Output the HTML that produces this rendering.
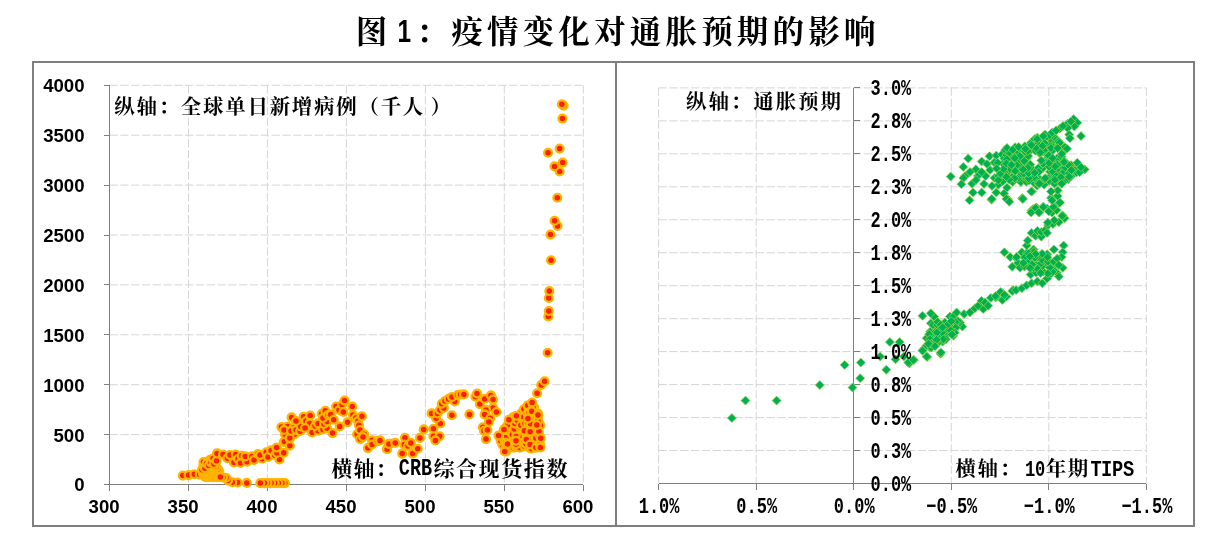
<!DOCTYPE html>
<html lang="zh-CN"><head><meta charset="utf-8"><title>图 1：疫情变化对通胀预期的影响</title>
<style>html,body{margin:0;padding:0;background:#fff;overflow:hidden}svg{display:block}</style></head>
<body>
<svg width="1225" height="541" viewBox="0 0 1225 541">
<rect x="0" y="0" width="1225" height="541" fill="#ffffff"/>
<rect x="33" y="62" width="1161" height="464" fill="none" stroke="#7f7f7f" stroke-width="2"/>
<line x1="616.0" y1="62.0" x2="616.0" y2="526.0" stroke="#7f7f7f" stroke-width="2"/>
<g>
<line x1="109.5" y1="434.6" x2="583.3" y2="434.6" stroke="#d6d6d6" stroke-width="1" stroke-dasharray="8.3 2.5"/>
<line x1="109.5" y1="384.7" x2="583.3" y2="384.7" stroke="#d6d6d6" stroke-width="1" stroke-dasharray="8.3 2.5"/>
<line x1="109.5" y1="334.8" x2="583.3" y2="334.8" stroke="#d6d6d6" stroke-width="1" stroke-dasharray="8.3 2.5"/>
<line x1="109.5" y1="284.9" x2="583.3" y2="284.9" stroke="#d6d6d6" stroke-width="1" stroke-dasharray="8.3 2.5"/>
<line x1="109.5" y1="235.0" x2="583.3" y2="235.0" stroke="#d6d6d6" stroke-width="1" stroke-dasharray="8.3 2.5"/>
<line x1="109.5" y1="185.1" x2="583.3" y2="185.1" stroke="#d6d6d6" stroke-width="1" stroke-dasharray="8.3 2.5"/>
<line x1="109.5" y1="135.2" x2="583.3" y2="135.2" stroke="#d6d6d6" stroke-width="1" stroke-dasharray="8.3 2.5"/>
<line x1="109.5" y1="85.3" x2="583.3" y2="85.3" stroke="#d6d6d6" stroke-width="1" stroke-dasharray="8.3 2.5"/>
<line x1="188.5" y1="85.3" x2="188.5" y2="484.5" stroke="#d6d6d6" stroke-width="1" stroke-dasharray="8.3 2.5"/>
<line x1="267.4" y1="85.3" x2="267.4" y2="484.5" stroke="#d6d6d6" stroke-width="1" stroke-dasharray="8.3 2.5"/>
<line x1="346.4" y1="85.3" x2="346.4" y2="484.5" stroke="#d6d6d6" stroke-width="1" stroke-dasharray="8.3 2.5"/>
<line x1="425.4" y1="85.3" x2="425.4" y2="484.5" stroke="#d6d6d6" stroke-width="1" stroke-dasharray="8.3 2.5"/>
<line x1="504.3" y1="85.3" x2="504.3" y2="484.5" stroke="#d6d6d6" stroke-width="1" stroke-dasharray="8.3 2.5"/>
<line x1="583.3" y1="85.3" x2="583.3" y2="484.5" stroke="#d6d6d6" stroke-width="1" stroke-dasharray="8.3 2.5"/>
<line x1="658.6" y1="450.5" x2="1146.4" y2="450.5" stroke="#d6d6d6" stroke-width="1" stroke-dasharray="8.3 2.5"/>
<line x1="658.6" y1="417.6" x2="1146.4" y2="417.6" stroke="#d6d6d6" stroke-width="1" stroke-dasharray="8.3 2.5"/>
<line x1="658.6" y1="384.6" x2="1146.4" y2="384.6" stroke="#d6d6d6" stroke-width="1" stroke-dasharray="8.3 2.5"/>
<line x1="658.6" y1="351.6" x2="1146.4" y2="351.6" stroke="#d6d6d6" stroke-width="1" stroke-dasharray="8.3 2.5"/>
<line x1="658.6" y1="318.7" x2="1146.4" y2="318.7" stroke="#d6d6d6" stroke-width="1" stroke-dasharray="8.3 2.5"/>
<line x1="658.6" y1="285.7" x2="1146.4" y2="285.7" stroke="#d6d6d6" stroke-width="1" stroke-dasharray="8.3 2.5"/>
<line x1="658.6" y1="252.7" x2="1146.4" y2="252.7" stroke="#d6d6d6" stroke-width="1" stroke-dasharray="8.3 2.5"/>
<line x1="658.6" y1="219.8" x2="1146.4" y2="219.8" stroke="#d6d6d6" stroke-width="1" stroke-dasharray="8.3 2.5"/>
<line x1="658.6" y1="186.8" x2="1146.4" y2="186.8" stroke="#d6d6d6" stroke-width="1" stroke-dasharray="8.3 2.5"/>
<line x1="658.6" y1="153.8" x2="1146.4" y2="153.8" stroke="#d6d6d6" stroke-width="1" stroke-dasharray="8.3 2.5"/>
<line x1="658.6" y1="120.9" x2="1146.4" y2="120.9" stroke="#d6d6d6" stroke-width="1" stroke-dasharray="8.3 2.5"/>
<line x1="658.6" y1="87.9" x2="1146.4" y2="87.9" stroke="#d6d6d6" stroke-width="1" stroke-dasharray="8.3 2.5"/>
<line x1="658.6" y1="87.9" x2="658.6" y2="483.5" stroke="#d6d6d6" stroke-width="1" stroke-dasharray="8.3 2.5"/>
<line x1="756.2" y1="87.9" x2="756.2" y2="483.5" stroke="#d6d6d6" stroke-width="1" stroke-dasharray="8.3 2.5"/>
<line x1="951.3" y1="87.9" x2="951.3" y2="483.5" stroke="#d6d6d6" stroke-width="1" stroke-dasharray="8.3 2.5"/>
<line x1="1048.8" y1="87.9" x2="1048.8" y2="483.5" stroke="#d6d6d6" stroke-width="1" stroke-dasharray="8.3 2.5"/>
<line x1="1146.4" y1="87.9" x2="1146.4" y2="483.5" stroke="#d6d6d6" stroke-width="1" stroke-dasharray="8.3 2.5"/>
</g><g shape-rendering="crispEdges">
<line x1="109.5" y1="85.3" x2="109.5" y2="484.5" stroke="#7f7f7f" stroke-width="1"/>
<line x1="109.5" y1="484.5" x2="583.3" y2="484.5" stroke="#7f7f7f" stroke-width="1"/>
<line x1="103.5" y1="484.5" x2="109.5" y2="484.5" stroke="#7f7f7f" stroke-width="1"/>
<line x1="103.5" y1="434.6" x2="109.5" y2="434.6" stroke="#7f7f7f" stroke-width="1"/>
<line x1="103.5" y1="384.7" x2="109.5" y2="384.7" stroke="#7f7f7f" stroke-width="1"/>
<line x1="103.5" y1="334.8" x2="109.5" y2="334.8" stroke="#7f7f7f" stroke-width="1"/>
<line x1="103.5" y1="284.9" x2="109.5" y2="284.9" stroke="#7f7f7f" stroke-width="1"/>
<line x1="103.5" y1="235.0" x2="109.5" y2="235.0" stroke="#7f7f7f" stroke-width="1"/>
<line x1="103.5" y1="185.1" x2="109.5" y2="185.1" stroke="#7f7f7f" stroke-width="1"/>
<line x1="103.5" y1="135.2" x2="109.5" y2="135.2" stroke="#7f7f7f" stroke-width="1"/>
<line x1="103.5" y1="85.3" x2="109.5" y2="85.3" stroke="#7f7f7f" stroke-width="1"/>
<line x1="109.5" y1="484.5" x2="109.5" y2="490.5" stroke="#7f7f7f" stroke-width="1"/>
<line x1="188.5" y1="484.5" x2="188.5" y2="490.5" stroke="#7f7f7f" stroke-width="1"/>
<line x1="267.4" y1="484.5" x2="267.4" y2="490.5" stroke="#7f7f7f" stroke-width="1"/>
<line x1="346.4" y1="484.5" x2="346.4" y2="490.5" stroke="#7f7f7f" stroke-width="1"/>
<line x1="425.4" y1="484.5" x2="425.4" y2="490.5" stroke="#7f7f7f" stroke-width="1"/>
<line x1="504.3" y1="484.5" x2="504.3" y2="490.5" stroke="#7f7f7f" stroke-width="1"/>
<line x1="583.3" y1="484.5" x2="583.3" y2="490.5" stroke="#7f7f7f" stroke-width="1"/>
<line x1="853.7" y1="87.9" x2="853.7" y2="483.5" stroke="#7f7f7f" stroke-width="1"/>
<line x1="658.6" y1="483.5" x2="1146.4" y2="483.5" stroke="#7f7f7f" stroke-width="1"/>
<line x1="853.7" y1="483.5" x2="859.7" y2="483.5" stroke="#7f7f7f" stroke-width="1"/>
<line x1="853.7" y1="450.5" x2="859.7" y2="450.5" stroke="#7f7f7f" stroke-width="1"/>
<line x1="853.7" y1="417.6" x2="859.7" y2="417.6" stroke="#7f7f7f" stroke-width="1"/>
<line x1="853.7" y1="384.6" x2="859.7" y2="384.6" stroke="#7f7f7f" stroke-width="1"/>
<line x1="853.7" y1="351.6" x2="859.7" y2="351.6" stroke="#7f7f7f" stroke-width="1"/>
<line x1="853.7" y1="318.7" x2="859.7" y2="318.7" stroke="#7f7f7f" stroke-width="1"/>
<line x1="853.7" y1="285.7" x2="859.7" y2="285.7" stroke="#7f7f7f" stroke-width="1"/>
<line x1="853.7" y1="252.7" x2="859.7" y2="252.7" stroke="#7f7f7f" stroke-width="1"/>
<line x1="853.7" y1="219.8" x2="859.7" y2="219.8" stroke="#7f7f7f" stroke-width="1"/>
<line x1="853.7" y1="186.8" x2="859.7" y2="186.8" stroke="#7f7f7f" stroke-width="1"/>
<line x1="853.7" y1="153.8" x2="859.7" y2="153.8" stroke="#7f7f7f" stroke-width="1"/>
<line x1="853.7" y1="120.9" x2="859.7" y2="120.9" stroke="#7f7f7f" stroke-width="1"/>
<line x1="853.7" y1="87.9" x2="859.7" y2="87.9" stroke="#7f7f7f" stroke-width="1"/>
<line x1="658.6" y1="483.5" x2="658.6" y2="489.5" stroke="#7f7f7f" stroke-width="1"/>
<line x1="756.2" y1="483.5" x2="756.2" y2="489.5" stroke="#7f7f7f" stroke-width="1"/>
<line x1="853.7" y1="483.5" x2="853.7" y2="489.5" stroke="#7f7f7f" stroke-width="1"/>
<line x1="951.3" y1="483.5" x2="951.3" y2="489.5" stroke="#7f7f7f" stroke-width="1"/>
<line x1="1048.8" y1="483.5" x2="1048.8" y2="489.5" stroke="#7f7f7f" stroke-width="1"/>
<line x1="1146.4" y1="483.5" x2="1146.4" y2="489.5" stroke="#7f7f7f" stroke-width="1"/>
</g>
<g fill="#ff1e00" stroke="#ffb400" stroke-width="2.3">
<circle cx="182.8" cy="475.6" r="3.9"/>
<circle cx="188.6" cy="475.1" r="3.9"/>
<circle cx="194.3" cy="474.2" r="3.9"/>
<circle cx="199.6" cy="474.6" r="3.9"/>
<circle cx="205.0" cy="477.0" r="3.9"/>
<circle cx="207.3" cy="477.0" r="3.9"/>
<circle cx="209.0" cy="477.1" r="3.9"/>
<circle cx="210.8" cy="477.0" r="3.9"/>
<circle cx="213.1" cy="477.2" r="3.9"/>
<circle cx="214.8" cy="476.9" r="3.9"/>
<circle cx="216.8" cy="477.2" r="3.9"/>
<circle cx="219.1" cy="476.7" r="3.9"/>
<circle cx="219.8" cy="475.3" r="3.9"/>
<circle cx="217.6" cy="475.1" r="3.9"/>
<circle cx="215.3" cy="474.7" r="3.9"/>
<circle cx="213.5" cy="474.7" r="3.9"/>
<circle cx="211.3" cy="474.8" r="3.9"/>
<circle cx="209.2" cy="475.0" r="3.9"/>
<circle cx="207.5" cy="475.2" r="3.9"/>
<circle cx="205.5" cy="475.1" r="3.9"/>
<circle cx="203.5" cy="475.1" r="3.9"/>
<circle cx="203.0" cy="472.9" r="3.9"/>
<circle cx="205.3" cy="473.3" r="3.9"/>
<circle cx="207.2" cy="473.1" r="3.9"/>
<circle cx="208.9" cy="472.8" r="3.9"/>
<circle cx="210.9" cy="472.7" r="3.9"/>
<circle cx="213.2" cy="472.9" r="3.9"/>
<circle cx="215.2" cy="472.9" r="3.9"/>
<circle cx="217.3" cy="473.2" r="3.9"/>
<circle cx="218.7" cy="472.8" r="3.9"/>
<circle cx="219.2" cy="471.0" r="3.9"/>
<circle cx="217.3" cy="470.9" r="3.9"/>
<circle cx="214.7" cy="471.1" r="3.9"/>
<circle cx="213.2" cy="470.9" r="3.9"/>
<circle cx="210.8" cy="470.9" r="3.9"/>
<circle cx="209.3" cy="471.2" r="3.9"/>
<circle cx="206.8" cy="470.8" r="3.9"/>
<circle cx="204.8" cy="470.7" r="3.9"/>
<circle cx="203.2" cy="470.8" r="3.9"/>
<circle cx="204.0" cy="469.0" r="3.9"/>
<circle cx="205.8" cy="469.1" r="3.9"/>
<circle cx="207.8" cy="469.1" r="3.9"/>
<circle cx="209.8" cy="469.0" r="3.9"/>
<circle cx="211.8" cy="468.9" r="3.9"/>
<circle cx="214.3" cy="469.2" r="3.9"/>
<circle cx="215.9" cy="469.2" r="3.9"/>
<circle cx="217.8" cy="468.9" r="3.9"/>
<circle cx="216.2" cy="467.3" r="3.9"/>
<circle cx="213.8" cy="467.5" r="3.9"/>
<circle cx="211.8" cy="467.1" r="3.9"/>
<circle cx="210.2" cy="467.1" r="3.9"/>
<circle cx="207.9" cy="466.9" r="3.9"/>
<circle cx="205.8" cy="467.2" r="3.9"/>
<circle cx="202.0" cy="469.8" r="3.9"/>
<circle cx="203.5" cy="465.5" r="3.9"/>
<circle cx="203.5" cy="462.1" r="3.9"/>
<circle cx="205.5" cy="466.5" r="3.9"/>
<circle cx="204.9" cy="468.2" r="3.9"/>
<circle cx="207.8" cy="461.2" r="3.9"/>
<circle cx="206.5" cy="463.8" r="3.9"/>
<circle cx="208.8" cy="465.5" r="3.9"/>
<circle cx="210.5" cy="459.5" r="3.9"/>
<circle cx="211.0" cy="462.5" r="3.9"/>
<circle cx="213.0" cy="458.5" r="3.9"/>
<circle cx="214.0" cy="464.0" r="3.9"/>
<circle cx="216.5" cy="460.7" r="3.9"/>
<circle cx="284.9" cy="483.1" r="3.9"/>
<circle cx="281.9" cy="483.1" r="3.9"/>
<circle cx="278.3" cy="483.1" r="3.9"/>
<circle cx="274.7" cy="483.1" r="3.9"/>
<circle cx="271.1" cy="483.1" r="3.9"/>
<circle cx="267.5" cy="483.1" r="3.9"/>
<circle cx="264.5" cy="483.1" r="3.9"/>
<circle cx="260.3" cy="483.1" r="3.9"/>
<circle cx="246.8" cy="482.9" r="3.9"/>
<circle cx="237.6" cy="482.5" r="3.9"/>
<circle cx="232.3" cy="482.3" r="3.9"/>
<circle cx="228.0" cy="480.4" r="3.9"/>
<circle cx="226.0" cy="477.8" r="3.9"/>
<circle cx="223.0" cy="477.5" r="3.9"/>
<circle cx="220.3" cy="477.0" r="3.9"/>
<circle cx="217.0" cy="453.4" r="3.9"/>
<circle cx="223.0" cy="454.6" r="3.9"/>
<circle cx="227.3" cy="458.2" r="3.9"/>
<circle cx="230.0" cy="455.0" r="3.9"/>
<circle cx="235.7" cy="454.6" r="3.9"/>
<circle cx="233.9" cy="462.4" r="3.9"/>
<circle cx="238.0" cy="459.0" r="3.9"/>
<circle cx="240.5" cy="463.0" r="3.9"/>
<circle cx="241.7" cy="455.8" r="3.9"/>
<circle cx="247.0" cy="461.8" r="3.9"/>
<circle cx="245.3" cy="456.4" r="3.9"/>
<circle cx="251.9" cy="456.4" r="3.9"/>
<circle cx="254.0" cy="460.0" r="3.9"/>
<circle cx="257.9" cy="454.0" r="3.9"/>
<circle cx="262.1" cy="458.8" r="3.9"/>
<circle cx="260.0" cy="455.0" r="3.9"/>
<circle cx="266.3" cy="452.2" r="3.9"/>
<circle cx="268.0" cy="457.0" r="3.9"/>
<circle cx="271.1" cy="450.4" r="3.9"/>
<circle cx="276.5" cy="448.0" r="3.9"/>
<circle cx="274.7" cy="455.2" r="3.9"/>
<circle cx="279.5" cy="459.4" r="3.9"/>
<circle cx="277.0" cy="453.0" r="3.9"/>
<circle cx="283.7" cy="452.8" r="3.9"/>
<circle cx="276.6" cy="447.5" r="3.9"/>
<circle cx="283.7" cy="442.0" r="3.9"/>
<circle cx="284.4" cy="441.5" r="3.9"/>
<circle cx="289.8" cy="445.7" r="3.9"/>
<circle cx="289.7" cy="438.4" r="3.9"/>
<circle cx="285.0" cy="434.3" r="3.9"/>
<circle cx="281.4" cy="427.1" r="3.9"/>
<circle cx="287.4" cy="426.5" r="3.9"/>
<circle cx="293.4" cy="427.7" r="3.9"/>
<circle cx="294.6" cy="434.3" r="3.9"/>
<circle cx="289.8" cy="437.9" r="3.9"/>
<circle cx="284.0" cy="430.0" r="3.9"/>
<circle cx="291.0" cy="431.0" r="3.9"/>
<circle cx="296.0" cy="430.0" r="3.9"/>
<circle cx="300.0" cy="431.3" r="3.9"/>
<circle cx="300.6" cy="426.5" r="3.9"/>
<circle cx="291.6" cy="417.4" r="3.9"/>
<circle cx="296.0" cy="421.0" r="3.9"/>
<circle cx="303.6" cy="416.8" r="3.9"/>
<circle cx="306.0" cy="421.0" r="3.9"/>
<circle cx="310.2" cy="415.6" r="3.9"/>
<circle cx="309.6" cy="423.4" r="3.9"/>
<circle cx="305.0" cy="428.0" r="3.9"/>
<circle cx="312.1" cy="432.5" r="3.9"/>
<circle cx="318.1" cy="430.7" r="3.9"/>
<circle cx="315.0" cy="426.0" r="3.9"/>
<circle cx="318.1" cy="423.4" r="3.9"/>
<circle cx="322.9" cy="429.5" r="3.9"/>
<circle cx="327.1" cy="428.3" r="3.9"/>
<circle cx="324.0" cy="424.0" r="3.9"/>
<circle cx="327.1" cy="421.6" r="3.9"/>
<circle cx="321.7" cy="413.8" r="3.9"/>
<circle cx="323.0" cy="418.0" r="3.9"/>
<circle cx="325.3" cy="410.8" r="3.9"/>
<circle cx="328.0" cy="415.0" r="3.9"/>
<circle cx="330.7" cy="414.4" r="3.9"/>
<circle cx="333.7" cy="419.8" r="3.9"/>
<circle cx="332.5" cy="433.1" r="3.9"/>
<circle cx="339.7" cy="426.5" r="3.9"/>
<circle cx="336.1" cy="406.6" r="3.9"/>
<circle cx="339.0" cy="410.0" r="3.9"/>
<circle cx="342.1" cy="404.8" r="3.9"/>
<circle cx="344.5" cy="400.6" r="3.9"/>
<circle cx="343.3" cy="412.0" r="3.9"/>
<circle cx="347.5" cy="422.2" r="3.9"/>
<circle cx="352.3" cy="406.6" r="3.9"/>
<circle cx="352.9" cy="415.0" r="3.9"/>
<circle cx="355.9" cy="418.0" r="3.9"/>
<circle cx="358.0" cy="421.0" r="3.9"/>
<circle cx="361.9" cy="416.2" r="3.9"/>
<circle cx="358.9" cy="425.2" r="3.9"/>
<circle cx="357.1" cy="434.3" r="3.9"/>
<circle cx="360.0" cy="430.0" r="3.9"/>
<circle cx="364.3" cy="434.3" r="3.9"/>
<circle cx="360.1" cy="439.1" r="3.9"/>
<circle cx="363.0" cy="437.0" r="3.9"/>
<circle cx="367.9" cy="448.1" r="3.9"/>
<circle cx="372.1" cy="440.3" r="3.9"/>
<circle cx="372.1" cy="444.5" r="3.9"/>
<circle cx="377.5" cy="440.9" r="3.9"/>
<circle cx="380.0" cy="440.4" r="3.9"/>
<circle cx="386.9" cy="448.8" r="3.9"/>
<circle cx="387.1" cy="449.3" r="3.9"/>
<circle cx="389.7" cy="443.9" r="3.9"/>
<circle cx="388.9" cy="443.9" r="3.9"/>
<circle cx="395.2" cy="442.9" r="3.9"/>
<circle cx="402.2" cy="453.6" r="3.9"/>
<circle cx="404.9" cy="437.7" r="3.9"/>
<circle cx="404.3" cy="444.6" r="3.9"/>
<circle cx="408.0" cy="446.0" r="3.9"/>
<circle cx="410.8" cy="442.9" r="3.9"/>
<circle cx="412.6" cy="453.6" r="3.9"/>
<circle cx="417.7" cy="448.8" r="3.9"/>
<circle cx="419.9" cy="437.9" r="3.9"/>
<circle cx="423.7" cy="429.4" r="3.9"/>
<circle cx="433.4" cy="428.7" r="3.9"/>
<circle cx="433.4" cy="436.3" r="3.9"/>
<circle cx="439.6" cy="436.3" r="3.9"/>
<circle cx="435.4" cy="440.4" r="3.9"/>
<circle cx="440.3" cy="423.5" r="3.9"/>
<circle cx="436.1" cy="418.3" r="3.9"/>
<circle cx="431.6" cy="413.4" r="3.9"/>
<circle cx="437.5" cy="413.4" r="3.9"/>
<circle cx="440.0" cy="410.0" r="3.9"/>
<circle cx="443.8" cy="407.9" r="3.9"/>
<circle cx="441.7" cy="403.7" r="3.9"/>
<circle cx="445.0" cy="401.0" r="3.9"/>
<circle cx="448.6" cy="398.9" r="3.9"/>
<circle cx="454.8" cy="401.4" r="3.9"/>
<circle cx="452.0" cy="397.0" r="3.9"/>
<circle cx="457.6" cy="395.0" r="3.9"/>
<circle cx="460.5" cy="394.5" r="3.9"/>
<circle cx="463.9" cy="394.4" r="3.9"/>
<circle cx="451.8" cy="415.2" r="3.9"/>
<circle cx="469.4" cy="414.4" r="3.9"/>
<circle cx="475.4" cy="396.8" r="3.9"/>
<circle cx="477.0" cy="393.5" r="3.9"/>
<circle cx="479.8" cy="404.1" r="3.9"/>
<circle cx="484.6" cy="398.9" r="3.9"/>
<circle cx="490.9" cy="395.4" r="3.9"/>
<circle cx="493.0" cy="399.6" r="3.9"/>
<circle cx="493.0" cy="407.9" r="3.9"/>
<circle cx="486.0" cy="409.9" r="3.9"/>
<circle cx="496.4" cy="412.0" r="3.9"/>
<circle cx="484.6" cy="414.4" r="3.9"/>
<circle cx="490.2" cy="418.3" r="3.9"/>
<circle cx="488.8" cy="422.1" r="3.9"/>
<circle cx="482.8" cy="427.3" r="3.9"/>
<circle cx="484.0" cy="430.7" r="3.9"/>
<circle cx="487.4" cy="430.0" r="3.9"/>
<circle cx="486.0" cy="439.1" r="3.9"/>
<circle cx="502.4" cy="444.7" r="3.9"/>
<circle cx="499.7" cy="435.8" r="3.9"/>
<circle cx="507.0" cy="441.1" r="3.9"/>
<circle cx="505.1" cy="430.9" r="3.9"/>
<circle cx="506.2" cy="451.5" r="3.9"/>
<circle cx="511.3" cy="427.8" r="3.9"/>
<circle cx="500.7" cy="440.8" r="3.9"/>
<circle cx="503.3" cy="436.6" r="3.9"/>
<circle cx="504.4" cy="440.4" r="3.9"/>
<circle cx="511.0" cy="444.4" r="3.9"/>
<circle cx="507.0" cy="448.8" r="3.9"/>
<circle cx="505.1" cy="449.0" r="3.9"/>
<circle cx="513.5" cy="447.7" r="3.9"/>
<circle cx="506.6" cy="436.7" r="3.9"/>
<circle cx="506.0" cy="427.5" r="3.9"/>
<circle cx="505.7" cy="442.5" r="3.9"/>
<circle cx="510.7" cy="421.0" r="3.9"/>
<circle cx="512.3" cy="431.6" r="3.9"/>
<circle cx="511.3" cy="424.4" r="3.9"/>
<circle cx="521.2" cy="413.3" r="3.9"/>
<circle cx="513.5" cy="441.3" r="3.9"/>
<circle cx="512.9" cy="417.3" r="3.9"/>
<circle cx="506.7" cy="430.3" r="3.9"/>
<circle cx="512.3" cy="434.4" r="3.9"/>
<circle cx="520.3" cy="443.7" r="3.9"/>
<circle cx="513.5" cy="420.7" r="3.9"/>
<circle cx="507.7" cy="425.1" r="3.9"/>
<circle cx="516.3" cy="432.3" r="3.9"/>
<circle cx="519.2" cy="441.1" r="3.9"/>
<circle cx="520.9" cy="433.3" r="3.9"/>
<circle cx="525.0" cy="439.2" r="3.9"/>
<circle cx="524.0" cy="409.1" r="3.9"/>
<circle cx="515.4" cy="416.5" r="3.9"/>
<circle cx="516.1" cy="446.7" r="3.9"/>
<circle cx="521.4" cy="426.2" r="3.9"/>
<circle cx="517.6" cy="435.6" r="3.9"/>
<circle cx="520.0" cy="447.7" r="3.9"/>
<circle cx="516.3" cy="436.5" r="3.9"/>
<circle cx="514.3" cy="428.9" r="3.9"/>
<circle cx="523.2" cy="437.1" r="3.9"/>
<circle cx="516.0" cy="444.3" r="3.9"/>
<circle cx="526.4" cy="436.0" r="3.9"/>
<circle cx="527.4" cy="419.9" r="3.9"/>
<circle cx="522.8" cy="419.0" r="3.9"/>
<circle cx="514.9" cy="423.6" r="3.9"/>
<circle cx="517.3" cy="420.2" r="3.9"/>
<circle cx="521.2" cy="417.1" r="3.9"/>
<circle cx="516.0" cy="440.7" r="3.9"/>
<circle cx="520.5" cy="427.7" r="3.9"/>
<circle cx="531.1" cy="421.3" r="3.9"/>
<circle cx="528.0" cy="426.3" r="3.9"/>
<circle cx="520.9" cy="425.2" r="3.9"/>
<circle cx="524.2" cy="446.1" r="3.9"/>
<circle cx="523.5" cy="416.9" r="3.9"/>
<circle cx="533.9" cy="418.2" r="3.9"/>
<circle cx="534.1" cy="428.8" r="3.9"/>
<circle cx="529.3" cy="447.7" r="3.9"/>
<circle cx="535.2" cy="443.8" r="3.9"/>
<circle cx="531.4" cy="448.7" r="3.9"/>
<circle cx="536.2" cy="435.6" r="3.9"/>
<circle cx="525.1" cy="423.5" r="3.9"/>
<circle cx="529.7" cy="405.5" r="3.9"/>
<circle cx="527.7" cy="430.7" r="3.9"/>
<circle cx="524.4" cy="430.8" r="3.9"/>
<circle cx="531.9" cy="440.6" r="3.9"/>
<circle cx="531.5" cy="428.0" r="3.9"/>
<circle cx="529.0" cy="416.1" r="3.9"/>
<circle cx="524.3" cy="442.3" r="3.9"/>
<circle cx="525.9" cy="443.8" r="3.9"/>
<circle cx="527.5" cy="413.5" r="3.9"/>
<circle cx="528.2" cy="407.2" r="3.9"/>
<circle cx="534.1" cy="407.2" r="3.9"/>
<circle cx="532.2" cy="415.5" r="3.9"/>
<circle cx="532.0" cy="436.7" r="3.9"/>
<circle cx="537.1" cy="426.6" r="3.9"/>
<circle cx="534.7" cy="412.7" r="3.9"/>
<circle cx="526.4" cy="439.5" r="3.9"/>
<circle cx="527.6" cy="405.5" r="3.9"/>
<circle cx="530.1" cy="444.5" r="3.9"/>
<circle cx="535.9" cy="447.6" r="3.9"/>
<circle cx="528.1" cy="423.2" r="3.9"/>
<circle cx="540.3" cy="446.2" r="3.9"/>
<circle cx="530.5" cy="423.8" r="3.9"/>
<circle cx="538.1" cy="413.6" r="3.9"/>
<circle cx="536.4" cy="430.7" r="3.9"/>
<circle cx="538.3" cy="416.4" r="3.9"/>
<circle cx="536.0" cy="416.3" r="3.9"/>
<circle cx="529.2" cy="412.4" r="3.9"/>
<circle cx="530.1" cy="431.7" r="3.9"/>
<circle cx="539.8" cy="443.9" r="3.9"/>
<circle cx="535.7" cy="438.1" r="3.9"/>
<circle cx="533.1" cy="407.0" r="3.9"/>
<circle cx="539.2" cy="434.8" r="3.9"/>
<circle cx="540.4" cy="425.3" r="3.9"/>
<circle cx="538.9" cy="431.3" r="3.9"/>
<circle cx="540.7" cy="438.3" r="3.9"/>
<circle cx="538.0" cy="420.5" r="3.9"/>
<circle cx="536.8" cy="425.0" r="3.9"/>
<circle cx="498.5" cy="435.6" r="3.9"/>
<circle cx="504.0" cy="429.4" r="3.9"/>
<circle cx="508.9" cy="419.7" r="3.9"/>
<circle cx="507.5" cy="443.9" r="3.9"/>
<circle cx="504.7" cy="451.5" r="3.9"/>
<circle cx="531.6" cy="411.3" r="3.9"/>
<circle cx="537.9" cy="414.9" r="3.9"/>
<circle cx="527.9" cy="418.6" r="3.9"/>
<circle cx="516.3" cy="415.8" r="3.9"/>
<circle cx="532.1" cy="402.5" r="3.9"/>
<circle cx="540.4" cy="447.4" r="3.9"/>
<circle cx="537.1" cy="393.3" r="3.9"/>
<circle cx="541.2" cy="385.0" r="3.9"/>
<circle cx="544.6" cy="381.3" r="3.9"/>
<circle cx="547.6" cy="352.8" r="3.9"/>
<circle cx="548.3" cy="316.5" r="3.9"/>
<circle cx="548.8" cy="311.0" r="3.9"/>
<circle cx="548.8" cy="298.0" r="3.9"/>
<circle cx="549.3" cy="291.0" r="3.9"/>
<circle cx="551.0" cy="260.3" r="3.9"/>
<circle cx="550.5" cy="234.6" r="3.9"/>
<circle cx="557.5" cy="225.9" r="3.9"/>
<circle cx="554.5" cy="220.8" r="3.9"/>
<circle cx="557.3" cy="197.7" r="3.9"/>
<circle cx="559.6" cy="171.5" r="3.9"/>
<circle cx="554.5" cy="166.4" r="3.9"/>
<circle cx="562.6" cy="162.6" r="3.9"/>
<circle cx="548.0" cy="152.7" r="3.9"/>
<circle cx="559.6" cy="148.6" r="3.9"/>
<circle cx="562.4" cy="118.6" r="3.9"/>
<circle cx="563.6" cy="105.6" r="3.9"/>
<circle cx="561.8" cy="104.2" r="3.9"/>
</g>
<g fill="#00b050" stroke="#8fd44e" stroke-width="0.8">
<path d="M731.9 413.6L736.4 418.1L731.9 422.6L727.4 418.1Z"/>
<path d="M745.5 396.1L750.0 400.6L745.5 405.1L741.0 400.6Z"/>
<path d="M776.6 396.1L781.1 400.6L776.6 405.1L772.1 400.6Z"/>
<path d="M819.8 380.6L824.3 385.1L819.8 389.6L815.3 385.1Z"/>
<path d="M844.7 360.4L849.2 364.9L844.7 369.4L840.2 364.9Z"/>
<path d="M860.8 358.1L865.3 362.6L860.8 367.1L856.3 362.6Z"/>
<path d="M860.2 373.7L864.7 378.2L860.2 382.7L855.7 378.2Z"/>
<path d="M852.5 383.1L857.0 387.6L852.5 392.1L848.0 387.6Z"/>
<path d="M880.2 352.0L884.7 356.5L880.2 361.0L875.7 356.5Z"/>
<path d="M886.3 365.3L890.8 369.8L886.3 374.3L881.8 369.8Z"/>
<path d="M889.9 337.6L894.4 342.1L889.9 346.6L885.4 342.1Z"/>
<path d="M899.6 337.6L904.1 342.1L899.6 346.6L895.1 342.1Z"/>
<path d="M895.5 354.8L900.0 359.3L895.5 363.8L891.0 359.3Z"/>
<path d="M903.8 352.0L908.3 356.5L903.8 361.0L899.3 356.5Z"/>
<path d="M909.3 359.0L913.8 363.5L909.3 368.0L904.8 363.5Z"/>
<path d="M914.0 355.4L918.5 359.9L914.0 364.4L909.5 359.9Z"/>
<path d="M923.2 345.1L927.7 349.6L923.2 354.1L918.7 349.6Z"/>
<path d="M927.3 352.6L931.8 357.1L927.3 361.6L922.8 357.1Z"/>
<path d="M940.6 349.3L945.1 353.8L940.6 358.3L936.1 353.8Z"/>
<path d="M908.3 357.9L912.8 362.4L908.3 366.9L903.8 362.4Z"/>
<path d="M913.3 355.4L917.8 359.9L913.3 364.4L908.8 359.9Z"/>
<path d="M926.6 352.0L931.1 356.5L926.6 361.0L922.1 356.5Z"/>
<path d="M940.8 347.9L945.3 352.4L940.8 356.9L936.3 352.4Z"/>
<path d="M922.5 346.2L927.0 350.7L922.5 355.2L918.0 350.7Z"/>
<path d="M930.0 342.9L934.5 347.4L930.0 351.9L925.5 347.4Z"/>
<path d="M935.8 339.6L940.3 344.1L935.8 348.6L931.3 344.1Z"/>
<path d="M942.4 337.1L946.9 341.6L942.4 346.1L937.9 341.6Z"/>
<path d="M944.1 332.1L948.6 336.6L944.1 341.1L939.6 336.6Z"/>
<path d="M937.4 332.9L941.9 337.4L937.4 341.9L932.9 337.4Z"/>
<path d="M926.6 333.7L931.1 338.2L926.6 342.7L922.1 338.2Z"/>
<path d="M930.0 330.4L934.5 334.9L930.0 339.4L925.5 334.9Z"/>
<path d="M940.8 327.9L945.3 332.4L940.8 336.9L936.3 332.4Z"/>
<path d="M935.0 325.4L939.5 329.9L935.0 334.4L930.5 329.9Z"/>
<path d="M938.3 319.6L942.8 324.1L938.3 328.6L933.8 324.1Z"/>
<path d="M930.8 318.8L935.3 323.3L930.8 327.8L926.3 323.3Z"/>
<path d="M934.1 312.1L938.6 316.6L934.1 321.1L929.6 316.6Z"/>
<path d="M930.8 308.8L935.3 313.3L930.8 317.8L926.3 313.3Z"/>
<path d="M922.5 311.3L927.0 315.8L922.5 320.3L918.0 315.8Z"/>
<path d="M946.6 325.4L951.1 329.9L946.6 334.4L942.1 329.9Z"/>
<path d="M953.3 331.2L957.8 335.7L953.3 340.2L948.8 335.7Z"/>
<path d="M952.4 327.1L956.9 331.6L952.4 336.1L947.9 331.6Z"/>
<path d="M949.9 321.2L954.4 325.7L949.9 330.2L945.4 325.7Z"/>
<path d="M955.7 320.4L960.2 324.9L955.7 329.4L951.2 324.9Z"/>
<path d="M962.4 322.1L966.9 326.6L962.4 331.1L957.9 326.6Z"/>
<path d="M959.9 317.9L964.4 322.4L959.9 326.9L955.4 322.4Z"/>
<path d="M949.9 312.1L954.4 316.6L949.9 321.1L945.4 316.6Z"/>
<path d="M953.3 312.1L957.8 316.6L953.3 321.1L948.8 316.6Z"/>
<path d="M956.6 307.9L961.1 312.4L956.6 316.9L952.1 312.4Z"/>
<path d="M964.1 309.6L968.6 314.1L964.1 318.6L959.6 314.1Z"/>
<path d="M969.9 307.9L974.4 312.4L969.9 316.9L965.4 312.4Z"/>
<path d="M931.5 329.7L936.0 334.2L931.5 338.7L927.0 334.2Z"/>
<path d="M946.7 330.7L951.2 335.2L946.7 339.7L942.2 335.2Z"/>
<path d="M930.1 327.2L934.6 331.7L930.1 336.2L925.6 331.7Z"/>
<path d="M936.0 319.0L940.5 323.5L936.0 328.0L931.5 323.5Z"/>
<path d="M929.1 329.7L933.6 334.2L929.1 338.7L924.6 334.2Z"/>
<path d="M944.8 318.0L949.3 322.5L944.8 327.0L940.3 322.5Z"/>
<path d="M933.0 320.4L937.5 324.9L933.0 329.4L928.5 324.9Z"/>
<path d="M935.8 327.3L940.3 331.8L935.8 336.3L931.3 331.8Z"/>
<path d="M953.8 326.3L958.3 330.8L953.8 335.3L949.3 330.8Z"/>
<path d="M942.8 324.5L947.3 329.0L942.8 333.5L938.3 329.0Z"/>
<path d="M954.1 322.9L958.6 327.4L954.1 331.9L949.6 327.4Z"/>
<path d="M926.7 341.0L931.2 345.5L926.7 350.0L922.2 345.5Z"/>
<path d="M938.7 333.3L943.2 337.8L938.7 342.3L934.2 337.8Z"/>
<path d="M937.2 320.4L941.7 324.9L937.2 329.4L932.7 324.9Z"/>
<path d="M937.6 317.4L942.1 321.9L937.6 326.4L933.1 321.9Z"/>
<path d="M942.9 336.7L947.4 341.2L942.9 345.7L938.4 341.2Z"/>
<path d="M930.0 334.7L934.5 339.2L930.0 343.7L925.5 339.2Z"/>
<path d="M945.2 330.9L949.7 335.4L945.2 339.9L940.7 335.4Z"/>
<path d="M957.9 316.6L962.4 321.1L957.9 325.6L953.4 321.1Z"/>
<path d="M946.1 324.2L950.6 328.7L946.1 333.2L941.6 328.7Z"/>
<path d="M946.0 334.7L950.5 339.2L946.0 343.7L941.5 339.2Z"/>
<path d="M931.4 343.1L935.9 347.6L931.4 352.1L926.9 347.6Z"/>
<path d="M955.6 317.8L960.1 322.3L955.6 326.8L951.1 322.3Z"/>
<path d="M955.8 323.2L960.3 327.7L955.8 332.2L951.3 327.7Z"/>
<path d="M954.8 328.2L959.3 332.7L954.8 337.2L950.3 332.7Z"/>
<path d="M939.6 336.8L944.1 341.3L939.6 345.8L935.1 341.3Z"/>
<path d="M940.6 320.3L945.1 324.8L940.6 329.3L936.1 324.8Z"/>
<path d="M940.6 325.0L945.1 329.5L940.6 334.0L936.1 329.5Z"/>
<path d="M931.6 339.3L936.1 343.8L931.6 348.3L927.1 343.8Z"/>
<path d="M941.9 328.1L946.4 332.6L941.9 337.1L937.4 332.6Z"/>
<path d="M936.9 328.2L941.4 332.7L936.9 337.2L932.4 332.7Z"/>
<path d="M943.4 334.8L947.9 339.3L943.4 343.8L938.9 339.3Z"/>
<path d="M936.3 337.2L940.8 341.7L936.3 346.2L931.8 341.7Z"/>
<path d="M928.4 339.3L932.9 343.8L928.4 348.3L923.9 343.8Z"/>
<path d="M947.4 320.6L951.9 325.1L947.4 329.6L942.9 325.1Z"/>
<path d="M936.6 335.3L941.1 339.8L936.6 344.3L932.1 339.8Z"/>
<path d="M935.0 341.7L939.5 346.2L935.0 350.7L930.5 346.2Z"/>
<path d="M950.7 326.0L955.2 330.5L950.7 335.0L946.2 330.5Z"/>
<path d="M952.0 330.0L956.5 334.5L952.0 339.0L947.5 334.5Z"/>
<path d="M951.3 316.7L955.8 321.2L951.3 325.7L946.8 321.2Z"/>
<path d="M942.6 322.9L947.1 327.4L942.6 331.9L938.1 327.4Z"/>
<path d="M974.9 303.8L979.4 308.3L974.9 312.8L970.4 308.3Z"/>
<path d="M983.2 304.6L987.7 309.1L983.2 313.6L978.7 309.1Z"/>
<path d="M978.2 301.3L982.7 305.8L978.2 310.3L973.7 305.8Z"/>
<path d="M981.5 296.3L986.0 300.8L981.5 305.3L977.0 300.8Z"/>
<path d="M984.9 298.0L989.4 302.5L984.9 307.0L980.4 302.5Z"/>
<path d="M988.2 301.3L992.7 305.8L988.2 310.3L983.7 305.8Z"/>
<path d="M995.7 293.0L1000.2 297.5L995.7 302.0L991.2 297.5Z"/>
<path d="M1002.3 295.5L1006.8 300.0L1002.3 304.5L997.8 300.0Z"/>
<path d="M1001.5 288.0L1006.0 292.5L1001.5 297.0L997.0 292.5Z"/>
<path d="M1006.5 292.1L1011.0 296.6L1006.5 301.1L1002.0 296.6Z"/>
<path d="M1013.2 285.5L1017.7 290.0L1013.2 294.5L1008.7 290.0Z"/>
<path d="M990.8 293.4L995.3 297.9L990.8 302.4L986.3 297.9Z"/>
<path d="M995.7 291.5L1000.2 296.0L995.7 300.5L991.2 296.0Z"/>
<path d="M1000.5 287.6L1005.0 292.1L1000.5 296.6L996.0 292.1Z"/>
<path d="M1004.4 290.5L1008.9 295.0L1004.4 299.5L999.9 295.0Z"/>
<path d="M1012.2 286.6L1016.7 291.1L1012.2 295.6L1007.7 291.1Z"/>
<path d="M1016.1 285.6L1020.6 290.1L1016.1 294.6L1011.6 290.1Z"/>
<path d="M1021.9 283.7L1026.4 288.2L1021.9 292.7L1017.4 288.2Z"/>
<path d="M1026.7 280.8L1031.2 285.3L1026.7 289.8L1022.2 285.3Z"/>
<path d="M1031.6 278.8L1036.1 283.3L1031.6 287.8L1027.1 283.3Z"/>
<path d="M1037.4 276.9L1041.9 281.4L1037.4 285.9L1032.9 281.4Z"/>
<path d="M1042.3 278.8L1046.8 283.3L1042.3 287.8L1037.8 283.3Z"/>
<path d="M1004.4 247.8L1008.9 252.3L1004.4 256.8L999.9 252.3Z"/>
<path d="M1010.2 252.6L1014.7 257.1L1010.2 261.6L1005.7 257.1Z"/>
<path d="M1016.1 253.6L1020.6 258.1L1016.1 262.6L1011.6 258.1Z"/>
<path d="M1021.9 247.8L1026.4 252.3L1021.9 256.8L1017.4 252.3Z"/>
<path d="M1026.7 248.8L1031.2 253.3L1026.7 257.8L1022.2 253.3Z"/>
<path d="M1033.5 244.9L1038.0 249.4L1033.5 253.9L1029.0 249.4Z"/>
<path d="M1053.9 244.9L1058.4 249.4L1053.9 253.9L1049.4 249.4Z"/>
<path d="M1063.6 241.0L1068.1 245.5L1063.6 250.0L1059.1 245.5Z"/>
<path d="M1062.7 247.8L1067.2 252.3L1062.7 256.8L1058.2 252.3Z"/>
<path d="M1061.7 252.6L1066.2 257.1L1061.7 261.6L1057.2 257.1Z"/>
<path d="M1047.1 249.7L1051.6 254.2L1047.1 258.7L1042.6 254.2Z"/>
<path d="M1041.3 253.6L1045.8 258.1L1041.3 262.6L1036.8 258.1Z"/>
<path d="M1035.5 252.6L1040.0 257.1L1035.5 261.6L1031.0 257.1Z"/>
<path d="M1029.7 256.5L1034.2 261.0L1029.7 265.5L1025.2 261.0Z"/>
<path d="M1023.8 257.5L1028.3 262.0L1023.8 266.5L1019.3 262.0Z"/>
<path d="M1018.0 258.5L1022.5 263.0L1018.0 267.5L1013.5 263.0Z"/>
<path d="M1012.2 262.3L1016.7 266.8L1012.2 271.3L1007.7 266.8Z"/>
<path d="M1020.0 263.3L1024.5 267.8L1020.0 272.3L1015.5 267.8Z"/>
<path d="M1028.7 261.4L1033.2 265.9L1028.7 270.4L1024.2 265.9Z"/>
<path d="M1036.5 262.3L1041.0 266.8L1036.5 271.3L1032.0 266.8Z"/>
<path d="M1043.3 260.4L1047.8 264.9L1043.3 269.4L1038.8 264.9Z"/>
<path d="M1050.0 257.5L1054.5 262.0L1050.0 266.5L1045.5 262.0Z"/>
<path d="M1053.0 263.3L1057.5 267.8L1053.0 272.3L1048.5 267.8Z"/>
<path d="M1062.7 263.3L1067.2 267.8L1062.7 272.3L1058.2 267.8Z"/>
<path d="M1056.8 268.2L1061.3 272.7L1056.8 277.2L1052.3 272.7Z"/>
<path d="M1051.0 269.1L1055.5 273.6L1051.0 278.1L1046.5 273.6Z"/>
<path d="M1043.3 267.2L1047.8 271.7L1043.3 276.2L1038.8 271.7Z"/>
<path d="M1035.5 266.2L1040.0 270.7L1035.5 275.2L1031.0 270.7Z"/>
<path d="M1030.6 270.1L1035.1 274.6L1030.6 279.1L1026.1 274.6Z"/>
<path d="M1058.8 272.1L1063.3 276.6L1058.8 281.1L1054.3 276.6Z"/>
<path d="M1047.1 274.0L1051.6 278.5L1047.1 283.0L1042.6 278.5Z"/>
<path d="M1041.7 262.4L1046.2 266.9L1041.7 271.4L1037.2 266.9Z"/>
<path d="M1024.7 252.9L1029.2 257.4L1024.7 261.9L1020.2 257.4Z"/>
<path d="M1036.1 260.6L1040.6 265.1L1036.1 269.6L1031.6 265.1Z"/>
<path d="M1036.1 268.2L1040.6 272.7L1036.1 277.2L1031.6 272.7Z"/>
<path d="M1040.9 258.8L1045.4 263.3L1040.9 267.8L1036.4 263.3Z"/>
<path d="M1033.9 247.4L1038.4 251.9L1033.9 256.4L1029.4 251.9Z"/>
<path d="M1042.0 255.4L1046.5 259.9L1042.0 264.4L1037.5 259.9Z"/>
<path d="M1037.8 252.6L1042.3 257.1L1037.8 261.6L1033.3 257.1Z"/>
<path d="M1028.6 257.6L1033.1 262.1L1028.6 266.6L1024.1 262.1Z"/>
<path d="M1053.3 265.6L1057.8 270.1L1053.3 274.6L1048.8 270.1Z"/>
<path d="M1024.5 262.0L1029.0 266.5L1024.5 271.0L1020.0 266.5Z"/>
<path d="M1034.8 253.1L1039.3 257.6L1034.8 262.1L1030.3 257.6Z"/>
<path d="M1033.4 263.3L1037.9 267.8L1033.4 272.3L1028.9 267.8Z"/>
<path d="M1032.1 260.1L1036.6 264.6L1032.1 269.1L1027.6 264.6Z"/>
<path d="M1052.5 267.4L1057.0 271.9L1052.5 276.4L1048.0 271.9Z"/>
<path d="M1037.7 264.4L1042.2 268.9L1037.7 273.4L1033.2 268.9Z"/>
<path d="M1049.7 263.1L1054.2 267.6L1049.7 272.1L1045.2 267.6Z"/>
<path d="M1047.7 269.0L1052.2 273.5L1047.7 278.0L1043.2 273.5Z"/>
<path d="M1048.0 257.1L1052.5 261.6L1048.0 266.1L1043.5 261.6Z"/>
<path d="M1040.6 268.5L1045.1 273.0L1040.6 277.5L1036.1 273.0Z"/>
<path d="M1053.7 257.1L1058.2 261.6L1053.7 266.1L1049.2 261.6Z"/>
<path d="M1047.4 252.7L1051.9 257.2L1047.4 261.7L1042.9 257.2Z"/>
<path d="M1042.1 249.3L1046.6 253.8L1042.1 258.3L1037.6 253.8Z"/>
<path d="M1023.4 258.5L1027.9 263.0L1023.4 267.5L1018.9 263.0Z"/>
<path d="M1028.8 249.0L1033.3 253.5L1028.8 258.0L1024.3 253.5Z"/>
<path d="M1030.0 263.6L1034.5 268.1L1030.0 272.6L1025.5 268.1Z"/>
<path d="M1057.3 254.0L1061.8 258.5L1057.3 263.0L1052.8 258.5Z"/>
<path d="M1035.6 249.6L1040.1 254.1L1035.6 258.6L1031.1 254.1Z"/>
<path d="M1058.8 260.6L1063.3 265.1L1058.8 269.6L1054.3 265.1Z"/>
<path d="M1016.6 252.6L1021.1 257.1L1016.6 261.6L1012.1 257.1Z"/>
<path d="M1029.8 251.9L1034.3 256.4L1029.8 260.9L1025.3 256.4Z"/>
<path d="M1026.7 241.0L1031.2 245.5L1026.7 250.0L1022.2 245.5Z"/>
<path d="M1027.7 236.1L1032.2 240.6L1027.7 245.1L1023.2 240.6Z"/>
<path d="M1031.6 228.4L1036.1 232.9L1031.6 237.4L1027.1 232.9Z"/>
<path d="M1035.5 231.3L1040.0 235.8L1035.5 240.3L1031.0 235.8Z"/>
<path d="M1041.3 232.2L1045.8 236.7L1041.3 241.2L1036.8 236.7Z"/>
<path d="M1037.4 226.4L1041.9 230.9L1037.4 235.4L1032.9 230.9Z"/>
<path d="M1041.3 227.4L1045.8 231.9L1041.3 236.4L1036.8 231.9Z"/>
<path d="M1045.2 225.5L1049.7 230.0L1045.2 234.5L1040.7 230.0Z"/>
<path d="M1047.1 228.4L1051.6 232.9L1047.1 237.4L1042.6 232.9Z"/>
<path d="M1048.1 220.6L1052.6 225.1L1048.1 229.6L1043.6 225.1Z"/>
<path d="M1053.0 219.6L1057.5 224.1L1053.0 228.6L1048.5 224.1Z"/>
<path d="M1058.8 217.7L1063.3 222.2L1058.8 226.7L1054.3 222.2Z"/>
<path d="M1064.6 213.8L1069.1 218.3L1064.6 222.8L1060.1 218.3Z"/>
<path d="M1062.7 210.9L1067.2 215.4L1062.7 219.9L1058.2 215.4Z"/>
<path d="M1052.0 208.0L1056.5 212.5L1052.0 217.0L1047.5 212.5Z"/>
<path d="M1039.4 208.0L1043.9 212.5L1039.4 217.0L1034.9 212.5Z"/>
<path d="M1031.6 206.0L1036.1 210.5L1031.6 215.0L1027.1 210.5Z"/>
<path d="M1036.5 203.1L1041.0 207.6L1036.5 212.1L1032.0 207.6Z"/>
<path d="M1043.3 202.2L1047.8 206.7L1043.3 211.2L1038.8 206.7Z"/>
<path d="M1047.1 204.1L1051.6 208.6L1047.1 213.1L1042.6 208.6Z"/>
<path d="M1054.9 202.2L1059.4 206.7L1054.9 211.2L1050.4 206.7Z"/>
<path d="M1059.8 198.3L1064.3 202.8L1059.8 207.3L1055.3 202.8Z"/>
<path d="M1051.0 193.4L1055.5 197.9L1051.0 202.4L1046.5 197.9Z"/>
<path d="M1033.2 204.5L1037.7 209.0L1033.2 213.5L1028.7 209.0Z"/>
<path d="M1035.5 203.6L1040.0 208.1L1035.5 212.6L1031.0 208.1Z"/>
<path d="M1031.1 208.0L1035.6 212.5L1031.1 217.0L1026.6 212.5Z"/>
<path d="M1038.8 208.0L1043.3 212.5L1038.8 217.0L1034.3 212.5Z"/>
<path d="M1048.8 206.9L1053.3 211.4L1048.8 215.9L1044.3 211.4Z"/>
<path d="M1056.6 205.8L1061.1 210.3L1056.6 214.8L1052.1 210.3Z"/>
<path d="M1062.1 211.4L1066.6 215.9L1062.1 220.4L1057.6 215.9Z"/>
<path d="M1054.3 215.8L1058.8 220.3L1054.3 224.8L1049.8 220.3Z"/>
<path d="M1047.7 218.0L1052.2 222.5L1047.7 227.0L1043.2 222.5Z"/>
<path d="M1043.3 202.5L1047.8 207.0L1043.3 211.5L1038.8 207.0Z"/>
<path d="M1053.2 202.5L1057.7 207.0L1053.2 211.5L1048.7 207.0Z"/>
<path d="M1059.9 198.1L1064.4 202.6L1059.9 207.1L1055.4 202.6Z"/>
<path d="M1052.1 195.8L1056.6 200.3L1052.1 204.8L1047.6 200.3Z"/>
<path d="M1057.7 191.4L1062.2 195.9L1057.7 200.4L1053.2 195.9Z"/>
<path d="M1057.7 185.9L1062.2 190.4L1057.7 194.9L1053.2 190.4Z"/>
<path d="M1051.0 187.0L1055.5 191.5L1051.0 196.0L1046.5 191.5Z"/>
<path d="M1032.2 187.0L1036.7 191.5L1032.2 196.0L1027.7 191.5Z"/>
<path d="M1022.2 193.6L1026.7 198.1L1022.2 202.6L1017.7 198.1Z"/>
<path d="M950.7 172.1L955.2 176.6L950.7 181.1L946.2 176.6Z"/>
<path d="M968.2 154.0L972.7 158.5L968.2 163.0L963.7 158.5Z"/>
<path d="M963.3 162.4L967.8 166.9L963.3 171.4L958.8 166.9Z"/>
<path d="M981.7 157.0L986.2 161.5L981.7 166.0L977.2 161.5Z"/>
<path d="M989.5 151.7L994.0 156.2L989.5 160.7L985.0 156.2Z"/>
<path d="M996.3 151.1L1000.8 155.6L996.3 160.1L991.8 155.6Z"/>
<path d="M975.9 164.7L980.4 169.2L975.9 173.7L971.4 169.2Z"/>
<path d="M965.2 171.5L969.7 176.0L965.2 180.5L960.7 176.0Z"/>
<path d="M963.3 173.5L967.8 178.0L963.3 182.5L958.8 178.0Z"/>
<path d="M961.4 179.7L965.9 184.2L961.4 188.7L956.9 184.2Z"/>
<path d="M972.0 179.3L976.5 183.8L972.0 188.3L967.5 183.8Z"/>
<path d="M977.9 171.5L982.4 176.0L977.9 180.5L973.4 176.0Z"/>
<path d="M985.6 171.5L990.1 176.0L985.6 180.5L981.1 176.0Z"/>
<path d="M981.7 167.6L986.2 172.1L981.7 176.6L977.2 172.1Z"/>
<path d="M973.0 188.0L977.5 192.5L973.0 197.0L968.5 192.5Z"/>
<path d="M981.7 188.0L986.2 192.5L981.7 197.0L977.2 192.5Z"/>
<path d="M969.5 195.8L974.0 200.3L969.5 204.8L965.0 200.3Z"/>
<path d="M991.5 195.2L996.0 199.7L991.5 204.2L987.0 199.7Z"/>
<path d="M996.3 188.0L1000.8 192.5L996.3 197.0L991.8 192.5Z"/>
<path d="M998.3 180.3L1002.8 184.8L998.3 189.3L993.8 184.8Z"/>
<path d="M1007.0 183.2L1011.5 187.7L1007.0 192.2L1002.5 187.7Z"/>
<path d="M1004.1 189.0L1008.6 193.5L1004.1 198.0L999.6 193.5Z"/>
<path d="M1008.0 194.8L1012.5 199.3L1008.0 203.8L1003.5 199.3Z"/>
<path d="M1022.5 194.2L1027.0 198.7L1022.5 203.2L1018.0 198.7Z"/>
<path d="M994.4 157.9L998.9 162.4L994.4 166.9L989.9 162.4Z"/>
<path d="M998.3 171.5L1002.8 176.0L998.3 180.5L993.8 176.0Z"/>
<path d="M994.4 173.5L998.9 178.0L994.4 182.5L989.9 178.0Z"/>
<path d="M991.8 194.4L996.3 198.9L991.8 203.4L987.3 198.9Z"/>
<path d="M1006.4 194.4L1010.9 198.9L1006.4 203.4L1001.9 198.9Z"/>
<path d="M1009.3 197.3L1013.8 201.8L1009.3 206.3L1004.8 201.8Z"/>
<path d="M1022.9 194.4L1027.4 198.9L1022.9 203.4L1018.4 198.9Z"/>
<path d="M1031.3 187.1L1035.8 191.6L1031.3 196.1L1026.8 191.6Z"/>
<path d="M1037.1 181.2L1041.6 185.7L1037.1 190.2L1032.6 185.7Z"/>
<path d="M970.0 167.5L974.5 172.0L970.0 176.5L965.5 172.0Z"/>
<path d="M976.0 175.5L980.5 180.0L976.0 184.5L971.5 180.0Z"/>
<path d="M984.0 179.5L988.5 184.0L984.0 188.5L979.5 184.0Z"/>
<path d="M990.0 165.5L994.5 170.0L990.0 174.5L985.5 170.0Z"/>
<path d="M987.0 159.5L991.5 164.0L987.0 168.5L982.5 164.0Z"/>
<path d="M992.0 181.5L996.5 186.0L992.0 190.5L987.5 186.0Z"/>
<path d="M1074.4 164.5L1078.9 169.0L1074.4 173.5L1069.9 169.0Z"/>
<path d="M1013.8 150.4L1018.3 154.9L1013.8 159.4L1009.3 154.9Z"/>
<path d="M1069.6 163.9L1074.1 168.4L1069.6 172.9L1065.1 168.4Z"/>
<path d="M1055.3 158.6L1059.8 163.1L1055.3 167.6L1050.8 163.1Z"/>
<path d="M1030.2 140.7L1034.7 145.2L1030.2 149.7L1025.7 145.2Z"/>
<path d="M1053.2 136.5L1057.7 141.0L1053.2 145.5L1048.7 141.0Z"/>
<path d="M1002.9 158.9L1007.4 163.4L1002.9 167.9L998.4 163.4Z"/>
<path d="M1033.5 177.9L1038.0 182.4L1033.5 186.9L1029.0 182.4Z"/>
<path d="M1058.5 167.8L1063.0 172.3L1058.5 176.8L1054.0 172.3Z"/>
<path d="M1049.3 139.7L1053.8 144.2L1049.3 148.7L1044.8 144.2Z"/>
<path d="M1022.3 173.1L1026.8 177.6L1022.3 182.1L1017.8 177.6Z"/>
<path d="M1050.6 133.9L1055.1 138.4L1050.6 142.9L1046.1 138.4Z"/>
<path d="M1015.3 147.6L1019.8 152.1L1015.3 156.6L1010.8 152.1Z"/>
<path d="M1012.6 177.4L1017.1 181.9L1012.6 186.4L1008.1 181.9Z"/>
<path d="M1050.0 167.3L1054.5 171.8L1050.0 176.3L1045.5 171.8Z"/>
<path d="M1053.4 142.8L1057.9 147.3L1053.4 151.8L1048.9 147.3Z"/>
<path d="M1053.8 171.8L1058.3 176.3L1053.8 180.8L1049.3 176.3Z"/>
<path d="M997.8 158.3L1002.3 162.8L997.8 167.3L993.3 162.8Z"/>
<path d="M1065.8 158.1L1070.3 162.6L1065.8 167.1L1061.3 162.6Z"/>
<path d="M1037.8 173.0L1042.3 177.5L1037.8 182.0L1033.3 177.5Z"/>
<path d="M1006.6 169.1L1011.1 173.6L1006.6 178.1L1002.1 173.6Z"/>
<path d="M1057.2 153.7L1061.7 158.2L1057.2 162.7L1052.7 158.2Z"/>
<path d="M1042.3 178.1L1046.8 182.6L1042.3 187.1L1037.8 182.6Z"/>
<path d="M1015.4 174.8L1019.9 179.3L1015.4 183.8L1010.9 179.3Z"/>
<path d="M1021.2 160.3L1025.7 164.8L1021.2 169.3L1016.7 164.8Z"/>
<path d="M1001.9 149.9L1006.4 154.4L1001.9 158.9L997.4 154.4Z"/>
<path d="M1012.1 166.3L1016.6 170.8L1012.1 175.3L1007.6 170.8Z"/>
<path d="M1004.3 154.0L1008.8 158.5L1004.3 163.0L999.8 158.5Z"/>
<path d="M1027.1 153.4L1031.6 157.9L1027.1 162.4L1022.6 157.9Z"/>
<path d="M1020.9 177.6L1025.4 182.1L1020.9 186.6L1016.4 182.1Z"/>
<path d="M1015.7 150.8L1020.2 155.3L1015.7 159.8L1011.2 155.3Z"/>
<path d="M1048.4 173.9L1052.9 178.4L1048.4 182.9L1043.9 178.4Z"/>
<path d="M1042.9 135.3L1047.4 139.8L1042.9 144.3L1038.4 139.8Z"/>
<path d="M1049.0 176.6L1053.5 181.1L1049.0 185.6L1044.5 181.1Z"/>
<path d="M1039.5 137.9L1044.0 142.4L1039.5 146.9L1035.0 142.4Z"/>
<path d="M1026.3 177.2L1030.8 181.7L1026.3 186.2L1021.8 181.7Z"/>
<path d="M1040.1 149.3L1044.6 153.8L1040.1 158.3L1035.6 153.8Z"/>
<path d="M1052.8 145.7L1057.3 150.2L1052.8 154.7L1048.3 150.2Z"/>
<path d="M1018.8 172.9L1023.3 177.4L1018.8 181.9L1014.3 177.4Z"/>
<path d="M1011.2 153.7L1015.7 158.2L1011.2 162.7L1006.7 158.2Z"/>
<path d="M1032.1 164.6L1036.6 169.1L1032.1 173.6L1027.6 169.1Z"/>
<path d="M1046.6 154.5L1051.1 159.0L1046.6 163.5L1042.1 159.0Z"/>
<path d="M1054.1 132.6L1058.6 137.1L1054.1 141.6L1049.6 137.1Z"/>
<path d="M1019.7 156.7L1024.2 161.2L1019.7 165.7L1015.2 161.2Z"/>
<path d="M1005.4 163.8L1009.9 168.3L1005.4 172.8L1000.9 168.3Z"/>
<path d="M1042.5 164.0L1047.0 168.5L1042.5 173.0L1038.0 168.5Z"/>
<path d="M1017.8 146.5L1022.3 151.0L1017.8 155.5L1013.3 151.0Z"/>
<path d="M1012.0 172.9L1016.5 177.4L1012.0 181.9L1007.5 177.4Z"/>
<path d="M1044.8 157.8L1049.3 162.3L1044.8 166.8L1040.3 162.3Z"/>
<path d="M1063.6 146.2L1068.1 150.7L1063.6 155.2L1059.1 150.7Z"/>
<path d="M1002.8 176.8L1007.3 181.3L1002.8 185.8L998.3 181.3Z"/>
<path d="M1037.0 175.6L1041.5 180.1L1037.0 184.6L1032.5 180.1Z"/>
<path d="M1058.4 141.4L1062.9 145.9L1058.4 150.4L1053.9 145.9Z"/>
<path d="M1049.1 162.1L1053.6 166.6L1049.1 171.1L1044.6 166.6Z"/>
<path d="M1053.0 167.2L1057.5 171.7L1053.0 176.2L1048.5 171.7Z"/>
<path d="M1073.2 168.6L1077.7 173.1L1073.2 177.6L1068.7 173.1Z"/>
<path d="M1049.2 156.3L1053.7 160.8L1049.2 165.3L1044.7 160.8Z"/>
<path d="M1038.3 179.2L1042.8 183.7L1038.3 188.2L1033.8 183.7Z"/>
<path d="M1044.1 180.2L1048.6 184.7L1044.1 189.2L1039.6 184.7Z"/>
<path d="M1015.1 165.2L1019.6 169.7L1015.1 174.2L1010.6 169.7Z"/>
<path d="M1009.9 164.4L1014.4 168.9L1009.9 173.4L1005.4 168.9Z"/>
<path d="M1058.6 136.9L1063.1 141.4L1058.6 145.9L1054.1 141.4Z"/>
<path d="M1045.0 130.1L1049.5 134.6L1045.0 139.1L1040.5 134.6Z"/>
<path d="M1076.5 168.0L1081.0 172.5L1076.5 177.0L1072.0 172.5Z"/>
<path d="M1033.8 172.8L1038.3 177.3L1033.8 181.8L1029.3 177.3Z"/>
<path d="M1058.1 163.6L1062.6 168.1L1058.1 172.6L1053.6 168.1Z"/>
<path d="M1019.7 143.7L1024.2 148.2L1019.7 152.7L1015.2 148.2Z"/>
<path d="M1030.9 145.4L1035.4 149.9L1030.9 154.4L1026.4 149.9Z"/>
<path d="M1025.2 159.2L1029.7 163.7L1025.2 168.2L1020.7 163.7Z"/>
<path d="M1063.5 163.3L1068.0 167.8L1063.5 172.3L1059.0 167.8Z"/>
<path d="M1038.2 163.8L1042.7 168.3L1038.2 172.8L1033.7 168.3Z"/>
<path d="M1071.2 160.7L1075.7 165.2L1071.2 169.7L1066.7 165.2Z"/>
<path d="M1025.7 149.7L1030.2 154.2L1025.7 158.7L1021.2 154.2Z"/>
<path d="M1030.8 138.4L1035.3 142.9L1030.8 147.4L1026.3 142.9Z"/>
<path d="M1014.6 173.7L1019.1 178.2L1014.6 182.7L1010.1 178.2Z"/>
<path d="M1048.6 145.4L1053.1 149.9L1048.6 154.4L1044.1 149.9Z"/>
<path d="M1056.1 171.8L1060.6 176.3L1056.1 180.8L1051.6 176.3Z"/>
<path d="M1006.4 150.5L1010.9 155.0L1006.4 159.5L1001.9 155.0Z"/>
<path d="M1001.1 170.7L1005.6 175.2L1001.1 179.7L996.6 175.2Z"/>
<path d="M1004.1 167.5L1008.6 172.0L1004.1 176.5L999.6 172.0Z"/>
<path d="M1028.2 151.5L1032.7 156.0L1028.2 160.5L1023.7 156.0Z"/>
<path d="M1057.8 176.7L1062.3 181.2L1057.8 185.7L1053.3 181.2Z"/>
<path d="M1047.2 150.6L1051.7 155.1L1047.2 159.6L1042.7 155.1Z"/>
<path d="M1048.8 151.1L1053.3 155.6L1048.8 160.1L1044.3 155.6Z"/>
<path d="M1034.6 134.6L1039.1 139.1L1034.6 143.6L1030.1 139.1Z"/>
<path d="M1021.4 169.3L1025.9 173.8L1021.4 178.3L1016.9 173.8Z"/>
<path d="M1045.0 174.7L1049.5 179.2L1045.0 183.7L1040.5 179.2Z"/>
<path d="M1020.6 162.3L1025.1 166.8L1020.6 171.3L1016.1 166.8Z"/>
<path d="M1030.3 160.0L1034.8 164.5L1030.3 169.0L1025.8 164.5Z"/>
<path d="M1043.0 159.0L1047.5 163.5L1043.0 168.0L1038.5 163.5Z"/>
<path d="M1049.2 158.5L1053.7 163.0L1049.2 167.5L1044.7 163.0Z"/>
<path d="M1028.9 176.1L1033.4 180.6L1028.9 185.1L1024.4 180.6Z"/>
<path d="M1028.7 173.8L1033.2 178.3L1028.7 182.8L1024.2 178.3Z"/>
<path d="M1068.2 174.8L1072.7 179.3L1068.2 183.8L1063.7 179.3Z"/>
<path d="M1034.2 140.8L1038.7 145.3L1034.2 149.8L1029.7 145.3Z"/>
<path d="M1023.8 169.0L1028.3 173.5L1023.8 178.0L1019.3 173.5Z"/>
<path d="M1063.9 167.5L1068.4 172.0L1063.9 176.5L1059.4 172.0Z"/>
<path d="M1038.7 167.5L1043.2 172.0L1038.7 176.5L1034.2 172.0Z"/>
<path d="M1063.7 177.1L1068.2 181.6L1063.7 186.1L1059.2 181.6Z"/>
<path d="M1016.6 160.8L1021.1 165.3L1016.6 169.8L1012.1 165.3Z"/>
<path d="M1035.4 146.2L1039.9 150.7L1035.4 155.2L1030.9 150.7Z"/>
<path d="M1028.5 168.6L1033.0 173.1L1028.5 177.6L1024.0 173.1Z"/>
<path d="M1034.7 168.3L1039.2 172.8L1034.7 177.3L1030.2 172.8Z"/>
<path d="M1067.8 173.6L1072.3 178.1L1067.8 182.6L1063.3 178.1Z"/>
<path d="M998.4 171.4L1002.9 175.9L998.4 180.4L993.9 175.9Z"/>
<path d="M998.4 175.7L1002.9 180.2L998.4 184.7L993.9 180.2Z"/>
<path d="M1045.2 173.6L1049.7 178.1L1045.2 182.6L1040.7 178.1Z"/>
<path d="M1062.6 142.8L1067.1 147.3L1062.6 151.8L1058.1 147.3Z"/>
<path d="M1044.9 133.8L1049.4 138.3L1044.9 142.8L1040.4 138.3Z"/>
<path d="M1037.5 139.5L1042.0 144.0L1037.5 148.5L1033.0 144.0Z"/>
<path d="M1041.3 156.0L1045.8 160.5L1041.3 165.0L1036.8 160.5Z"/>
<path d="M1000.6 169.2L1005.1 173.7L1000.6 178.2L996.1 173.7Z"/>
<path d="M1006.9 154.8L1011.4 159.3L1006.9 163.8L1002.4 159.3Z"/>
<path d="M1063.1 156.3L1067.6 160.8L1063.1 165.3L1058.6 160.8Z"/>
<path d="M1025.2 147.1L1029.7 151.6L1025.2 156.1L1020.7 151.6Z"/>
<path d="M1052.2 130.6L1056.7 135.1L1052.2 139.6L1047.7 135.1Z"/>
<path d="M1054.5 179.2L1059.0 183.7L1054.5 188.2L1050.0 183.7Z"/>
<path d="M1003.7 164.5L1008.2 169.0L1003.7 173.5L999.2 169.0Z"/>
<path d="M1055.0 175.3L1059.5 179.8L1055.0 184.3L1050.5 179.8Z"/>
<path d="M1049.7 130.5L1054.2 135.0L1049.7 139.5L1045.2 135.0Z"/>
<path d="M1036.4 144.0L1040.9 148.5L1036.4 153.0L1031.9 148.5Z"/>
<path d="M1027.8 146.5L1032.3 151.0L1027.8 155.5L1023.3 151.0Z"/>
<path d="M996.6 164.0L1001.1 168.5L996.6 173.0L992.1 168.5Z"/>
<path d="M1015.2 166.5L1019.7 171.0L1015.2 175.5L1010.7 171.0Z"/>
<path d="M1044.8 144.1L1049.3 148.6L1044.8 153.1L1040.3 148.6Z"/>
<path d="M1024.2 156.4L1028.7 160.9L1024.2 165.4L1019.7 160.9Z"/>
<path d="M1027.9 163.4L1032.4 167.9L1027.9 172.4L1023.4 167.9Z"/>
<path d="M1019.9 151.7L1024.4 156.2L1019.9 160.7L1015.4 156.2Z"/>
<path d="M1009.3 175.2L1013.8 179.7L1009.3 184.2L1004.8 179.7Z"/>
<path d="M1039.4 179.1L1043.9 183.6L1039.4 188.1L1034.9 183.6Z"/>
<path d="M1051.0 143.5L1055.5 148.0L1051.0 152.5L1046.5 148.0Z"/>
<path d="M1061.0 172.7L1065.5 177.2L1061.0 181.7L1056.5 177.2Z"/>
<path d="M1043.9 145.8L1048.4 150.3L1043.9 154.8L1039.4 150.3Z"/>
<path d="M1024.8 141.8L1029.3 146.3L1024.8 150.8L1020.3 146.3Z"/>
<path d="M1052.6 153.8L1057.1 158.3L1052.6 162.8L1048.1 158.3Z"/>
<path d="M1014.7 153.7L1019.2 158.2L1014.7 162.7L1010.2 158.2Z"/>
<path d="M1065.3 162.9L1069.8 167.4L1065.3 171.9L1060.8 167.4Z"/>
<path d="M1061.6 152.3L1066.1 156.8L1061.6 161.3L1057.1 156.8Z"/>
<path d="M1044.4 138.5L1048.9 143.0L1044.4 147.5L1039.9 143.0Z"/>
<path d="M1078.2 163.1L1082.7 167.6L1078.2 172.1L1073.7 167.6Z"/>
<path d="M1006.3 172.4L1010.8 176.9L1006.3 181.4L1001.8 176.9Z"/>
<path d="M1015.1 142.7L1019.6 147.2L1015.1 151.7L1010.6 147.2Z"/>
<path d="M1057.4 160.3L1061.9 164.8L1057.4 169.3L1052.9 164.8Z"/>
<path d="M1055.3 162.0L1059.8 166.5L1055.3 171.0L1050.8 166.5Z"/>
<path d="M1061.7 179.3L1066.2 183.8L1061.7 188.3L1057.2 183.8Z"/>
<path d="M1005.2 145.6L1009.7 150.1L1005.2 154.6L1000.7 150.1Z"/>
<path d="M1071.0 171.8L1075.5 176.3L1071.0 180.8L1066.5 176.3Z"/>
<path d="M1042.6 141.4L1047.1 145.9L1042.6 150.4L1038.1 145.9Z"/>
<path d="M1069.2 169.0L1073.7 173.5L1069.2 178.0L1064.7 173.5Z"/>
<path d="M1006.5 159.1L1011.0 163.6L1006.5 168.1L1002.0 163.6Z"/>
<path d="M1040.4 148.0L1044.9 152.5L1040.4 157.0L1035.9 152.5Z"/>
<path d="M1023.2 165.1L1027.7 169.6L1023.2 174.1L1018.7 169.6Z"/>
<path d="M1063.4 157.7L1067.9 162.2L1063.4 166.7L1058.9 162.2Z"/>
<path d="M1077.5 159.8L1082.0 164.3L1077.5 168.8L1073.0 164.3Z"/>
<path d="M1009.4 148.0L1013.9 152.5L1009.4 157.0L1004.9 152.5Z"/>
<path d="M1037.4 133.1L1041.9 137.6L1037.4 142.1L1032.9 137.6Z"/>
<path d="M1011.5 160.3L1016.0 164.8L1011.5 169.3L1007.0 164.8Z"/>
<path d="M1073.6 114.6L1078.1 119.1L1073.6 123.6L1069.1 119.1Z"/>
<path d="M1077.3 118.3L1081.8 122.8L1077.3 127.3L1072.8 122.8Z"/>
<path d="M1074.4 122.0L1078.9 126.5L1074.4 131.0L1069.9 126.5Z"/>
<path d="M1067.7 119.0L1072.2 123.5L1067.7 128.0L1063.2 123.5Z"/>
<path d="M1067.7 123.5L1072.2 128.0L1067.7 132.5L1063.2 128.0Z"/>
<path d="M1059.6 124.2L1064.1 128.7L1059.6 133.2L1055.1 128.7Z"/>
<path d="M1052.2 127.9L1056.7 132.4L1052.2 136.9L1047.7 132.4Z"/>
<path d="M1069.2 130.1L1073.7 134.6L1069.2 139.1L1064.7 134.6Z"/>
<path d="M1081.0 131.6L1085.5 136.1L1081.0 140.6L1076.5 136.1Z"/>
<path d="M1069.9 133.8L1074.4 138.3L1069.9 142.8L1065.4 138.3Z"/>
<path d="M1059.6 138.3L1064.1 142.8L1059.6 147.3L1055.1 142.8Z"/>
<path d="M1064.8 142.7L1069.3 147.2L1064.8 151.7L1060.3 147.2Z"/>
<path d="M1067.0 144.2L1071.5 148.7L1067.0 153.2L1062.5 148.7Z"/>
<path d="M1061.8 149.4L1066.3 153.9L1061.8 158.4L1057.3 153.9Z"/>
<path d="M1077.3 158.2L1081.8 162.7L1077.3 167.2L1072.8 162.7Z"/>
<path d="M1084.7 164.9L1089.2 169.4L1084.7 173.9L1080.2 169.4Z"/>
<path d="M1079.6 167.8L1084.1 172.3L1079.6 176.8L1075.1 172.3Z"/>
<path d="M1081.0 162.7L1085.5 167.2L1081.0 171.7L1076.5 167.2Z"/>
<path d="M1069.2 161.2L1073.7 165.7L1069.2 170.2L1064.7 165.7Z"/>
<path d="M1064.0 157.5L1068.5 162.0L1064.0 166.5L1059.5 162.0Z"/>
<path d="M1071.4 165.6L1075.9 170.1L1071.4 174.6L1066.9 170.1Z"/>
<path d="M1069.2 172.3L1073.7 176.8L1069.2 181.3L1064.7 176.8Z"/>
<path d="M1043.3 131.5L1047.8 136.0L1043.3 140.5L1038.8 136.0Z"/>
<path d="M1057.7 143.7L1062.2 148.2L1057.7 152.7L1053.2 148.2Z"/>
<path d="M1007.0 143.4L1011.5 147.9L1007.0 152.4L1002.5 147.9Z"/>
<path d="M1012.8 145.3L1017.3 149.8L1012.8 154.3L1008.3 149.8Z"/>
<path d="M1018.6 142.4L1023.1 146.9L1018.6 151.4L1014.1 146.9Z"/>
<path d="M1025.4 144.3L1029.9 148.8L1025.4 153.3L1020.9 148.8Z"/>
<path d="M1031.3 140.5L1035.8 145.0L1031.3 149.5L1026.8 145.0Z"/>
<path d="M1037.1 134.6L1041.6 139.1L1037.1 143.6L1032.6 139.1Z"/>
<path d="M1071.0 117.0L1075.5 121.5L1071.0 126.0L1066.5 121.5Z"/>
<path d="M1063.0 121.5L1067.5 126.0L1063.0 130.5L1058.5 126.0Z"/>
<path d="M1056.0 126.0L1060.5 130.5L1056.0 135.0L1051.5 130.5Z"/>
</g>
<g font-family="'Liberation Sans', sans-serif" font-weight="bold" font-size="18.6" fill="#000" text-anchor="end">
<text x="84.5" y="491.4">0</text>
<text x="84.5" y="441.5">500</text>
<text x="84.5" y="391.6">1000</text>
<text x="84.5" y="341.7">1500</text>
<text x="84.5" y="291.8">2000</text>
<text x="84.5" y="241.9">2500</text>
<text x="84.5" y="192.0">3000</text>
<text x="84.5" y="142.1">3500</text>
<text x="84.5" y="92.2">4000</text>
</g>
<g font-family="'Liberation Sans', sans-serif" font-weight="bold" font-size="18.6" fill="#000" text-anchor="middle">
<text x="104.1" y="512.9">300</text>
<text x="183.1" y="512.9">350</text>
<text x="262.0" y="512.9">400</text>
<text x="341.0" y="512.9">450</text>
<text x="420.0" y="512.9">500</text>
<text x="498.9" y="512.9">550</text>
<text x="577.9" y="512.9">600</text>
</g>
<g font-family="'Liberation Mono', monospace" font-weight="bold" font-size="20" fill="#000">
<text transform="translate(870.5 490.8) scale(0.85 1.1)" text-anchor="start">0.0%</text>
<text transform="translate(870.5 457.8) scale(0.85 1.1)" text-anchor="start">0.3%</text>
<text transform="translate(870.5 424.9) scale(0.85 1.1)" text-anchor="start">0.5%</text>
<text transform="translate(870.5 391.9) scale(0.85 1.1)" text-anchor="start">0.8%</text>
<text transform="translate(870.5 358.9) scale(0.85 1.1)" text-anchor="start">1.0%</text>
<text transform="translate(870.5 326.0) scale(0.85 1.1)" text-anchor="start">1.3%</text>
<text transform="translate(870.5 293.0) scale(0.85 1.1)" text-anchor="start">1.5%</text>
<text transform="translate(870.5 260.0) scale(0.85 1.1)" text-anchor="start">1.8%</text>
<text transform="translate(870.5 227.1) scale(0.85 1.1)" text-anchor="start">2.0%</text>
<text transform="translate(870.5 194.1) scale(0.85 1.1)" text-anchor="start">2.3%</text>
<text transform="translate(870.5 161.1) scale(0.85 1.1)" text-anchor="start">2.5%</text>
<text transform="translate(870.5 128.2) scale(0.85 1.1)" text-anchor="start">2.8%</text>
<text transform="translate(870.5 95.2) scale(0.85 1.1)" text-anchor="start">3.0%</text>
<text transform="translate(659.1 513.0) scale(0.85 1.1)" text-anchor="middle">1.0%</text>
<text transform="translate(756.7 513.0) scale(0.85 1.1)" text-anchor="middle">0.5%</text>
<text transform="translate(854.2 513.0) scale(0.85 1.1)" text-anchor="middle">0.0%</text>
<text transform="translate(951.8 513.0) scale(0.85 1.1)" text-anchor="middle">−0.5%</text>
<text transform="translate(1049.3 513.0) scale(0.85 1.1)" text-anchor="middle">−1.0%</text>
<text transform="translate(1146.9 513.0) scale(0.85 1.1)" text-anchor="middle">−1.5%</text>
</g>
<text x="371.5 389.0 404.2 432.0 467.0 502.7 538.4 574.1 609.8 645.5 681.2 716.9 752.6 788.3 824.0 859.7" y="43.3" font-family="'Liberation Serif', 'Noto Serif CJK SC', serif" font-weight="bold" font-size="31.5" text-anchor="middle" fill="#000">图 <tspan font-family="'Liberation Sans', sans-serif" font-size="30.7" y="42.4" textLength="13.6" lengthAdjust="spacingAndGlyphs">1</tspan><tspan y="43.3">：疫情变化对通胀预期的影响</tspan></text>
<text x="124.5 146.7 168.9 191.1 213.3 235.5 257.7 279.9 302.1 324.3 346.5 368.7 390.9 413.1 440.8" y="114.4" font-family="'Liberation Serif', 'Noto Serif CJK SC', serif" font-weight="bold" font-size="20.5" text-anchor="middle" fill="#000">纵轴：全球单日新增病例（千人）</text>
<text x="341.7 363.9 386.1 398.8 410.0 421.0 443.9 466.5 489.1 511.7 534.3 556.9" y="475.5" font-family="'Liberation Serif', 'Noto Serif CJK SC', serif" font-weight="bold" font-size="21" text-anchor="middle" fill="#000">横轴：<tspan x="398.8" y="475" font-family="'Liberation Mono', monospace" font-size="23" text-anchor="start" textLength="33.2" lengthAdjust="spacingAndGlyphs">CRB</tspan><tspan y="475.5">综合现货指数</tspan></text>
<text x="696.3 718.7 741.1 763.5 785.9 808.3 830.7" y="109.4" font-family="'Liberation Serif', 'Noto Serif CJK SC', serif" font-weight="bold" font-size="20.5" text-anchor="middle" fill="#000">纵轴：通胀预期</text>
<text x="965.6 987.8 1010.0 1025.0 1035.0 1056.0 1078.0 1090.5 1101.0 1112.0 1123.0" y="475.5" font-family="'Liberation Serif', 'Noto Serif CJK SC', serif" font-weight="bold" font-size="20.5" text-anchor="middle" fill="#000">横轴：<tspan x="1025" font-family="'Liberation Mono', monospace" font-size="22" text-anchor="start" textLength="20.6" lengthAdjust="spacingAndGlyphs">10</tspan>年期<tspan x="1090.5" font-family="'Liberation Mono', monospace" font-size="22" text-anchor="start" textLength="44.8" lengthAdjust="spacingAndGlyphs">TIPS</tspan></text>
</svg>
</body></html>
